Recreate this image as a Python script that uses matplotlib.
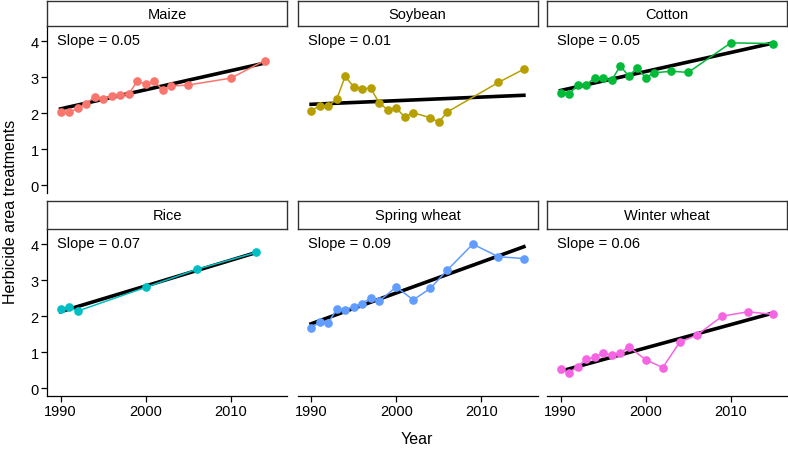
import numpy as np
import matplotlib
matplotlib.use('Agg')
from matplotlib import pyplot as plt

plt.rcParams['font.family'] = ['Liberation Sans', 'DejaVu Sans']

crops = ['Maize', 'Soybean', 'Cotton', 'Rice', 'Spring wheat', 'Winter wheat']
colors = ['#F8766D', '#B79F00', '#00BA38', '#00BFC4', '#619CFF', '#F564E3']
slope_labels = ['Slope = 0.05', 'Slope = 0.01', 'Slope = 0.05',
                'Slope = 0.07', 'Slope = 0.09', 'Slope = 0.06']

maize_years = [1990, 1991, 1992, 1993, 1994, 1995, 1996, 1997, 1998, 1999,
               2000, 2001, 2002, 2003, 2005, 2010, 2014]
maize_values = [2.03, 2.03, 2.14, 2.27, 2.46, 2.39, 2.49, 2.52, 2.53, 2.90,
                2.81, 2.90, 2.65, 2.76, 2.79, 2.98, 3.47]

soybean_years = [1990, 1991, 1992, 1993, 1994, 1995, 1996, 1997, 1998, 1999,
                 2000, 2001, 2002, 2004, 2005, 2006, 2012, 2015]
soybean_values = [2.07, 2.21, 2.21, 2.39, 3.03, 2.74, 2.69, 2.70, 2.29, 2.10,
                  2.15, 1.90, 2.02, 1.88, 1.76, 2.04, 2.86, 3.23]

cotton_years = [1990, 1991, 1992, 1993, 1994, 1995, 1996, 1997, 1998, 1999,
                2000, 2001, 2003, 2005, 2010, 2015]
cotton_values = [2.56, 2.54, 2.79, 2.79, 2.99, 2.99, 2.92, 3.32, 3.04, 3.26,
                 2.99, 3.13, 3.17, 3.14, 3.96, 3.94]

rice_years = [1990, 1991, 1992, 2000, 2006, 2013]
rice_values = [2.20, 2.25, 2.14, 2.80, 3.30, 3.77]

spring_years = [1990, 1991, 1992, 1993, 1994, 1995, 1996, 1997, 1998, 2000,
                2002, 2004, 2006, 2009, 2012, 2015]
spring_values = [1.66, 1.84, 1.80, 2.20, 2.18, 2.26, 2.35, 2.51, 2.42, 2.81,
                 2.45, 2.77, 3.28, 4.00, 3.65, 3.60]

winter_years = [1990, 1991, 1992, 1993, 1994, 1995, 1996, 1997, 1998, 2000,
                2002, 2004, 2006, 2009, 2012, 2015]
winter_values = [0.52, 0.43, 0.60, 0.80, 0.86, 0.98, 0.91, 0.97, 1.15, 0.79,
                 0.57, 1.28, 1.47, 2.00, 2.12, 2.05]

series = [(maize_years, maize_values), (soybean_years, soybean_values),
          (cotton_years, cotton_values), (rice_years, rice_values),
          (spring_years, spring_values), (winter_years, winter_values)]

W, H = 788, 452
fig = plt.figure(figsize=(W / 100, H / 100), dpi=100)

col_left = [47, 297.5, 547]
col_width = 240
rows = [(2, 27.3, 194), (202.3, 230, 396.7)]  # strip top, panel top, panel bottom


def fig_rect(x0, y0, x1, y1):
    return [x0 / W, 1 - y1 / H, (x1 - x0) / W, (y1 - y0) / H]


for i, crop in enumerate(crops):
    r, c = divmod(i, 3)
    strip_top, panel_top, panel_bottom = rows[r]
    x0 = col_left[c]
    x1 = x0 + col_width

    ax = fig.add_axes(fig_rect(x0, panel_top, x1, panel_bottom))
    years, values = series[i]
    years = np.array(years)
    values = np.array(values)

    # least squares trend, drawn over the span of the data
    fit = np.polyfit(years, values, 1)
    fit_x = np.array([years.min(), years.max()])
    ax.plot(fit_x, np.polyval(fit, fit_x), color='black', lw=2.6, zorder=2)
    ax.plot(years, values, color=colors[i], lw=1.1, marker='o',
            markersize=5.2, zorder=3)

    ax.text(1989.6, 4.03, slope_labels[i], fontsize=10.5, ha='left',
            va='center')

    ax.set_xlim(1988.4, 2016.6)
    ax.set_ylim(-0.21, 4.42)
    ax.set_xticks([1990, 2000, 2010])
    ax.set_yticks([0, 1, 2, 3, 4])
    for side in ['top', 'right']:
        ax.spines[side].set_visible(False)
    ax.spines['left'].set_visible(c == 0)
    ax.spines['bottom'].set_visible(r == 1)
    for side in ['left', 'bottom']:
        ax.spines[side].set_linewidth(0.9)
    ax.tick_params(axis='both', labelsize=10.5, length=4, width=0.9,
                   pad=2)
    ax.tick_params(axis='y', left=(c == 0), labelleft=(c == 0))
    ax.tick_params(axis='x', bottom=(r == 1), labelbottom=(r == 1))
    ax.patch.set_alpha(0)

    sax = fig.add_axes(fig_rect(x0, strip_top, x1, panel_top))
    sax.set_xticks([])
    sax.set_yticks([])
    for sp in sax.spines.values():
        sp.set_linewidth(1.0)
        sp.set_color('#333333')
    sax.text(0.5, 0.5, crop, fontsize=10.5, ha='center', va='center',
             transform=sax.transAxes)

fig.text(11 / W, 1 - 212 / H, 'Herbicide area treatments', rotation=90,
         fontsize=11.5, ha='center', va='center')
fig.text(417 / W, 1 - 440 / H, 'Year', fontsize=11.5, ha='center',
         va='center')

fig.savefig('out.png', dpi=100)
